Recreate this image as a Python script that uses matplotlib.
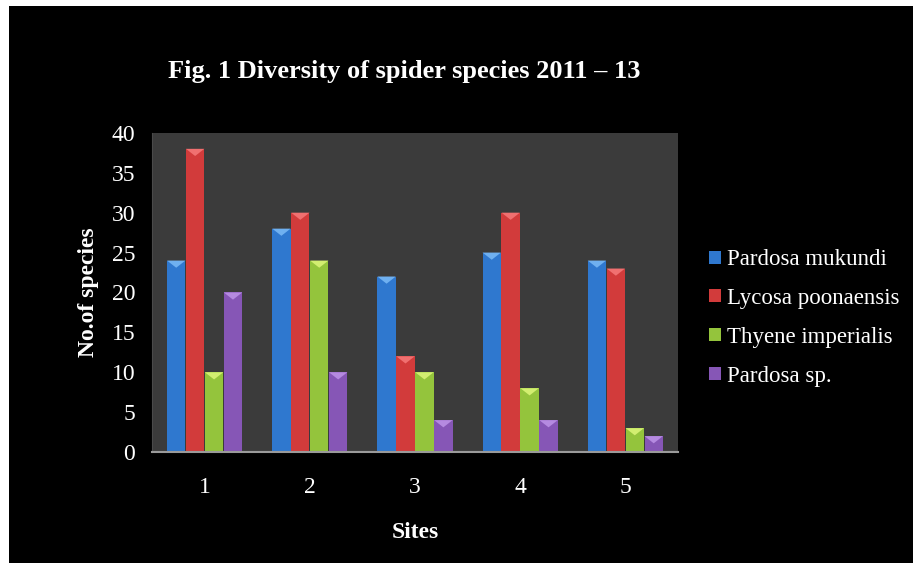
import numpy as np
import matplotlib.pyplot as plt
from matplotlib.patches import Rectangle, Polygon

sites = ['1', '2', '3', '4', '5']
species = ['Pardosa mukundi', 'Lycosa poonaensis', 'Thyene imperialis', 'Pardosa sp.']
pardosa_mukundi = [24, 28, 22, 25, 24]
lycosa_poonaensis = [38, 30, 12, 30, 23]
thyene_imperialis = [10, 24, 10, 8, 3]
pardosa_sp = [20, 10, 4, 4, 2]
yticks = [0, 5, 10, 15, 20, 25, 30, 35, 40]

series = [pardosa_mukundi, lycosa_poonaensis, thyene_imperialis, pardosa_sp]
colors = ['#2f78cf', '#d23b3b', '#94c43c', '#8656b6']
tops = ['#6fb0f0', '#f07070', '#d2ee70', '#b58ae0']

plt.rcParams['font.family'] = ['Liberation Serif', 'DejaVu Serif']

fig = plt.figure(figsize=(9.13, 5.63), dpi=100, facecolor='white')
# black panel with a thin white margin on the left and top
fig.patches.append(Rectangle((9 / 913, 0), 1, 1 - 6 / 563, transform=fig.transFigure,
                             facecolor='black', edgecolor='none', zorder=-10))

ax = fig.add_axes([0.1665, 0.197, 0.576, 0.567])
ax.set_facecolor('#3b3b3b')

x = np.arange(len(sites))
w = 0.18
for i, (vals, c, tc, name) in enumerate(zip(series, colors, tops, species)):
    bars = ax.bar(x + (i - 1.5) * w, vals, width=w * 0.97, color=c, label=name,
                  edgecolor='none', zorder=2)
    for b in bars:
        bx, bw, bh = b.get_x(), b.get_width(), b.get_height()
        ax.add_patch(Polygon([(bx, bh), (bx + bw, bh), (bx + bw / 2, bh - 0.9)],
                             closed=True, facecolor=tc, edgecolor='none', zorder=3))

ax.set_xlim(-0.5, 4.5)
ax.set_ylim(0, 40)
ax.set_xticks(x)
ax.set_xticklabels(sites)
ax.set_yticks(yticks)
ax.tick_params(axis='both', length=0, colors='white', labelsize=17)
ax.tick_params(axis='x', pad=18)
ax.tick_params(axis='y', pad=12)
for s in ['top', 'right']:
    ax.spines[s].set_visible(False)
ax.spines['left'].set_color('#4a4a4a')
ax.spines['bottom'].set_color('#9a9a9a')
ax.spines['bottom'].set_linewidth(1.5)

ax.set_xlabel('Sites', color='white', fontsize=17, fontweight='bold', labelpad=17)
ax.set_ylabel('No.of species', color='white', fontsize=17, fontweight='bold', labelpad=9)
fig.text(0.443, 0.873, 'Fig. 1 Diversity of spider species 2011 \u2013 13', color='white',
         fontsize=19, fontweight='bold', ha='center', va='center')

leg = ax.legend(loc='center left', bbox_to_anchor=(1.02, 0.42), frameon=False,
                fontsize=16.5, labelcolor='white', handlelength=0.5, handleheight=0.5,
                handletextpad=0.3, labelspacing=0.78)

fig.savefig('out.png', dpi=100)
